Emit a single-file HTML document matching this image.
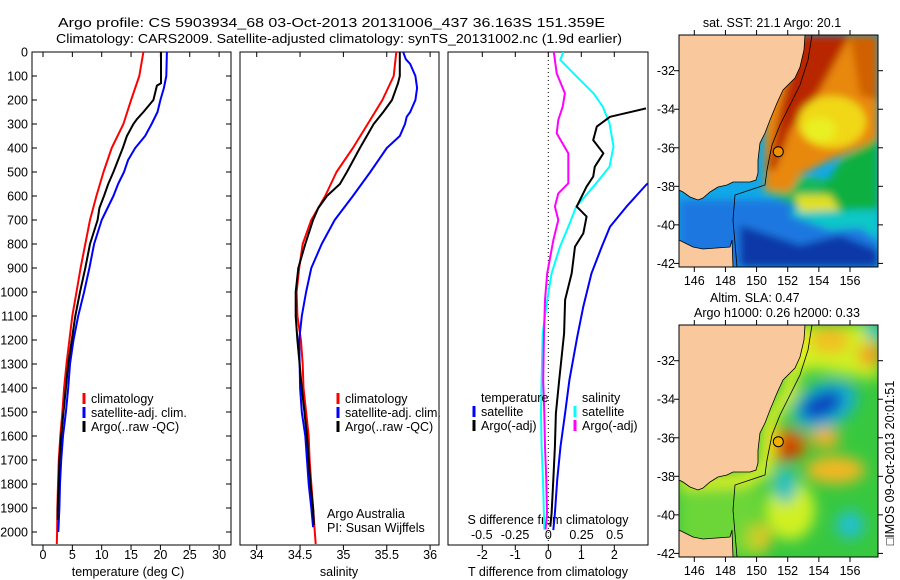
<!DOCTYPE html>
<html><head><meta charset="utf-8"><style>
html,body{margin:0;padding:0;background:#fff;}
svg{display:block;font-family:"Liberation Sans",sans-serif;}
text{font-size:12.5px;fill:#000;}
</style></head><body>
<svg id="fig" width="900" height="580" viewBox="0 0 900 580" xmlns="http://www.w3.org/2000/svg">
<defs>
<clipPath id="c1"><rect x="32" y="52" width="199" height="493"/></clipPath>
<clipPath id="c2"><rect x="240" y="52" width="199" height="493"/></clipPath>
<clipPath id="c3"><rect x="448" y="52" width="200" height="493"/></clipPath>
<clipPath id="cm1"><rect x="679" y="35" width="199" height="232"/></clipPath>
<clipPath id="cm2"><rect x="679" y="325" width="199" height="232"/></clipPath>
<filter id="blur3"><feGaussianBlur stdDeviation="4"/></filter>
<filter id="blur6"><feGaussianBlur stdDeviation="7"/></filter>
</defs>
<text x="58" y="27" textLength="547" lengthAdjust="spacingAndGlyphs" font-size="14.5">Argo profile: CS 5903934_68 03-Oct-2013 20131006_437 36.163S 151.359E</text>
<text x="56" y="43" textLength="566" lengthAdjust="spacingAndGlyphs" font-size="14.5">Climatology: CARS2009. Satellite-adjusted climatology: synTS_20131002.nc (1.9d earlier)</text>

<g id="p1"></g>
<g id="p2"></g>
<g id="p3"></g>

<!-- Top map: SST -->
<g>
<text x="772" y="27" text-anchor="middle" font-size="13.5">sat. SST: 21.1  Argo: 20.1</text>
<g clip-path="url(#cm1)">
<rect x="679" y="35" width="199" height="232" fill="#10a8e8"/>
<g filter="url(#blur3)">
<polygon points="679,200 878,200 878,267 679,267" fill="#1a78e0"/>
<polygon points="740,225 800,245 840,235 878,250 878,267 740,267" fill="#0838a8"/>
<polygon points="790,215 830,230 860,228 878,240 878,200 800,200" fill="#10c8c8"/>
<polygon points="760,190 800,208 840,212 878,205 878,172 830,180 790,175" fill="#18b858"/>
<polygon points="760,35 878,35 878,140 830,160 800,175 790,192 765,190 765,120" fill="#e88808"/>
<polygon points="800,35 850,35 820,90 790,130 775,170 768,170 780,110" fill="#b82800"/>
<polygon points="850,35 878,35 878,100 860,95" fill="#d06000"/>
<ellipse cx="832" cy="122" rx="34" ry="26" fill="#f0d818"/>
<ellipse cx="820" cy="130" rx="16" ry="12" fill="#e8f020"/>
<polygon points="842,158 878,138 878,210 830,210 820,195" fill="#10b040"/>
<polygon points="795,195 830,195 840,210 800,212" fill="#e0e020"/>
</g>
<polygon points="679,35 805,35 804,50 800,67 795,78 783,90 777,103 770,120 765,133 760,143 758,160 758,173 756,180 750,182 733,182 727,185 718,187 710,192 703,198 698,200 690,197 683,192 679,190" fill="#f9c99d" stroke="#000" stroke-width="0.8"/>
<polygon points="679,240 693,247 703,249 730,247 732,240 733,267 679,267" fill="#f9c99d" stroke="#000" stroke-width="0.8"/>
<polyline points="812,35 808,60 800,85 790,105 780,125 772,145 767,170 765,185 750,190 735,195 733,220 737,267" fill="none" stroke="#000" stroke-width="0.8"/>
<circle cx="778.3" cy="151.7" r="5" fill="#f09000" stroke="#000" stroke-width="1"/>
</g>
<rect x="679" y="35" width="199" height="232" fill="none" stroke="#000" stroke-width="1"/>
</g>

<!-- Bottom map: SLA -->
<g>
<text x="710" y="302" font-size="13.5">Altim. SLA: 0.47</text>
<text x="694" y="317" textLength="166" lengthAdjust="spacingAndGlyphs" font-size="13.5">Argo h1000: 0.26 h2000: 0.33</text>
<g clip-path="url(#cm2)">
<rect x="679" y="325" width="199" height="232" fill="#38c840"/>
<g filter="url(#blur6)">
<polygon points="790,325 878,325 878,380 850,375 820,370 800,370 790,350" fill="#d0f020"/>
<ellipse cx="830" cy="340" rx="20" ry="14" fill="#f0c020"/>
<ellipse cx="870" cy="355" rx="12" ry="12" fill="#f0a020"/>
<ellipse cx="875" cy="330" rx="10" ry="10" fill="#20c0c0"/>
<ellipse cx="825" cy="405" rx="34" ry="22" fill="#18b0d0" transform="rotate(-25 825 405)"/>
<ellipse cx="822" cy="405" rx="22" ry="12" fill="#0840c0" transform="rotate(-25 822 405)"/>
<ellipse cx="785" cy="445" rx="22" ry="16" fill="#e07010"/>
<ellipse cx="790" cy="448" rx="10" ry="8" fill="#c02000"/>
<ellipse cx="835" cy="470" rx="30" ry="14" fill="#f0b820"/>
<ellipse cx="825" cy="438" rx="15" ry="10" fill="#f0b020"/>
<ellipse cx="790" cy="510" rx="25" ry="30" fill="#d0f020"/>
<ellipse cx="785" cy="485" rx="12" ry="18" fill="#20c0c0"/>
<ellipse cx="850" cy="525" rx="14" ry="14" fill="#20c0d0"/>
<ellipse cx="757" cy="538" rx="14" ry="16" fill="#f0c020"/>
<polygon points="679,480 760,480 760,557 679,557" fill="#90e030" opacity="0.6"/>
<polyline points="800,325 790,390 770,420 765,470 740,480 679,482" fill="none" stroke="#e8f020" stroke-width="14"/>
</g>
<polygon points="679,325 805,325 804,340 800,357 795,368 783,380 777,393 770,410 765,423 760,433 758,450 758,463 756,470 750,472 733,472 727,475 718,477 710,482 703,488 698,490 690,487 683,482 679,480" fill="#f9c99d" stroke="#000" stroke-width="0.8"/>
<polygon points="679,530 693,537 703,539 730,537 732,530 733,557 679,557" fill="#f9c99d" stroke="#000" stroke-width="0.8"/>
<polyline points="812,325 808,350 800,375 790,395 780,415 772,435 767,460 765,475 750,480 735,485 733,510 737,557" fill="none" stroke="#000" stroke-width="0.8"/>
<circle cx="778.3" cy="441.7" r="5" fill="#f0b000" stroke="#000" stroke-width="1"/>
</g>
<rect x="679" y="325" width="199" height="232" fill="none" stroke="#000" stroke-width="1"/>
</g>
<text x="0" y="0" transform="translate(894,463) rotate(-90)" text-anchor="middle" font-size="13">□IMOS 09-Oct-2013 20:01:51</text>
<g id="maxes"></g>

<script>
// ---------- data ----------
const depthTicks = [0,100,200,300,400,500,600,700,800,900,1000,1100,1200,1300,1400,1500,1600,1700,1800,1900,2000];
const tempTicks = [0,5,10,15,20,25,30];
const salTicks = [34,34.5,35,35.5,36];
const salTickLabels = ["34","34.5","35","35.5","36"];
const tdiffTicks = [-2,-1,0,1,2];
const sdiffTicks = [-0.5,-0.25,0,0.25,0.5];
const sdiffTickLabels = ["-0.5","-0.25","0","0.25","0.5"];

const climTDepth = [0,100,200,300,400,500,600,700,800,900,1000,1100,1200,1300,1400,1500,1600,1700,1800,1900,2000,2050];
const climT = [17.1,16.4,15.0,13.7,11.7,10.3,9.1,8.0,7.2,6.4,5.7,5.0,4.5,4.0,3.6,3.3,2.95,2.7,2.55,2.45,2.4,2.35];
const satTDepth = [0,100,150,200,250,300,350,400,450,500,550,600,700,800,900,1000,1100,1200,1300,1400,1500,1600,1700,1800,1900,2000];
const satT = [21.1,21.0,20.6,20.0,19.5,18.5,17.4,15.7,14.5,13.8,12.8,12.0,10.0,8.7,7.9,7.0,6.0,5.2,4.6,4.3,3.9,3.4,3.1,2.9,2.8,2.6];
const argoTDepth = [0,130,140,200,250,280,300,350,400,500,550,600,650,700,800,900,1000,1100,1200,1300,1400,1500,1600,1700,1800,1900,1950];
const argoT = [20.1,20.1,19.4,18.8,17.1,16.0,15.4,14.3,13.6,12.0,11.1,10.4,9.6,9.3,8.0,7.2,6.3,5.5,4.9,4.3,3.9,3.5,3.1,2.8,2.7,2.5,2.5];

const climSDepth = [0,100,200,300,400,500,600,700,800,900,1000,1100,1200,1300,1400,1500,1600,1700,1800,1900,2000,2050];
const climS = [35.61,35.58,35.45,35.28,35.11,34.92,34.79,34.63,34.53,34.49,34.46,34.47,34.51,34.53,34.54,34.57,34.60,34.61,34.63,34.65,34.67,34.68];
const satSDepth = [0,30,50,100,150,200,250,270,300,350,400,500,600,700,800,900,1000,1100,1200,1400,1500,1600,1700,1800,1900,1980];
const satS = [35.69,35.72,35.77,35.83,35.85,35.83,35.77,35.73,35.71,35.65,35.50,35.31,35.11,34.90,34.75,34.63,34.57,34.52,34.49,34.50,34.52,34.56,34.58,34.60,34.63,34.65];
const argoSDepth = [0,100,130,200,250,300,400,500,550,600,650,700,800,900,1000,1100,1200,1400,1500,1600,1700,1800,1900,1970];
const argoS = [35.65,35.65,35.63,35.56,35.46,35.35,35.19,35.04,34.96,34.81,34.71,34.65,34.56,34.48,34.45,34.45,34.47,34.52,34.55,34.58,34.60,34.62,34.65,34.66];

const argoTdDepth = [235,270,311,367,422,478,519,561,644,686,756,811,922,1033,1172,1367,1505,1644,1783,1922,1978];
const argoTd = [2.96,1.87,1.47,1.36,1.67,1.41,1.36,1.16,0.86,1.16,1.06,0.81,0.71,0.51,0.48,0.33,0.23,0.20,0.15,0.10,0.06];
const satTdDepth = [480,554,644,728,811,922,1061,1186,1367,1505,1644,1783,1922,1992];
const satTd = [3.6,2.96,2.37,1.87,1.62,1.31,1.06,0.88,0.64,0.51,0.37,0.27,0.20,0.15];
const argoSdDepth = [0,6,89,172,228,283,339,422,478,547,589,644,700,783,922,1033,1172,1367,1505,1644,1783,1922,1990];
const argoSd = [0.04,0.043,0.063,0.125,0.108,0.075,0.063,0.15,0.15,0.15,0.075,0.05,0.075,0.038,-0.008,-0.025,-0.032,-0.038,-0.03,-0.025,-0.015,-0.01,-0.02];
const satSdDepth = [0,33,89,172,228,297,394,478,547,644,728,811,922,1033,1172,1367,1505,1644,1783,1990];
const satSd = [0.113,0.09,0.19,0.34,0.41,0.46,0.49,0.46,0.36,0.21,0.15,0.088,0.025,-0.008,-0.042,-0.05,-0.055,-0.05,-0.04,-0.03];

const mapLon = [146,148,150,152,154,156];
const mapLat = [-32,-34,-36,-38,-40,-42];

// ---------- scales ----------
const yD = d => 52 + d*0.24;
const xT = t => 43 + t*5.87;
const xS = s => 256.7 + (s-34)*86.7;
const xTd = t => 548.3 + t*33;
const xSd = s => 548.3 + s*133;
const NS = "http://www.w3.org/2000/svg";
function mk(tag, attrs, parent){
  const e = document.createElementNS(NS, tag);
  for (const k in attrs) e.setAttribute(k, attrs[k]);
  parent.appendChild(e);
  return e;
}
function txt(str, x, y, anchor, parent){
  const t = mk('text', {x:x, y:y, 'text-anchor':anchor}, parent);
  t.textContent = str;
  return t;
}
function line(depths, vals, xf, color, w, clip, parent, name){
  const pts = depths.map((d,i)=> xf(vals[i]).toFixed(1)+','+yD(d).toFixed(1)).join(' ');
  const p = mk('polyline', {points:pts, fill:'none', stroke:color, 'stroke-width':w, 'clip-path':'url(#'+clip+')', 'stroke-linejoin':'round'}, parent);
  
  
  return p;
}
function legend(x, y, color, label, parent, name){
  const g = mk('g', {}, parent);
  
  
  mk('rect', {x:x-1.5, y:y-10, width:3, height:11, fill:color}, g);
  txt(label, x+7, y, 'start', g);
}

// ---------- panel 1 ----------
const p1 = document.getElementById('p1');
mk('rect', {x:32, y:52, width:199, height:493, fill:'none', stroke:'#000', 'stroke-width':1}, p1);
depthTicks.forEach(d=>{
  const y = yD(d);
  mk('line', {x1:32, x2:37, y1:y, y2:y, stroke:'#000'}, p1);
  mk('line', {x1:226, x2:231, y1:y, y2:y, stroke:'#000'}, p1);
  const t = txt(String(d), 28, y+4.5, 'end', p1);
  
  
});
tempTicks.forEach(v=>{
  const x = xT(v);
  mk('line', {x1:x, x2:x, y1:52, y2:57, stroke:'#000'}, p1);
  mk('line', {x1:x, x2:x, y1:545, y2:550, stroke:'#000'}, p1);
  const t = txt(String(v), x, 559, 'middle', p1);
  
  
});
txt('temperature (deg C)', 128, 576, 'middle', p1);
line(climTDepth, climT, xT, '#ff0000', 2, 'c1', p1, 'climatology-temperature-line');
line(satTDepth, satT, xT, '#0000ff', 2, 'c1', p1, 'satellite-temperature-line');
line(argoTDepth, argoT, xT, '#000000', 2, 'c1', p1, 'argo-temperature-line');
legend(84, 403, '#ff0000', 'climatology', p1, 'legend-climatology');
legend(84, 417, '#0000ff', 'satellite-adj. clim.', p1, 'legend-satellite');
legend(84, 431, '#000000', 'Argo(..raw -QC)', p1, 'legend-argo');

// ---------- panel 2 ----------
const p2 = document.getElementById('p2');
mk('rect', {x:240, y:52, width:199, height:493, fill:'none', stroke:'#000', 'stroke-width':1}, p2);
salTicks.forEach((v,i)=>{
  const x = xS(v);
  mk('line', {x1:x, x2:x, y1:52, y2:57, stroke:'#000'}, p2);
  mk('line', {x1:x, x2:x, y1:545, y2:550, stroke:'#000'}, p2);
  const t = txt(salTickLabels[i], x, 559, 'middle', p2);
  
  
});
txt('salinity', 339, 576, 'middle', p2);
line(climSDepth, climS, xS, '#ff0000', 2, 'c2', p2, 'climatology-salinity-line');
line(satSDepth, satS, xS, '#0000ff', 2, 'c2', p2, 'satellite-salinity-line');
line(argoSDepth, argoS, xS, '#000000', 2, 'c2', p2, 'argo-salinity-line');
legend(338, 403, '#ff0000', 'climatology', p2, 'legend-climatology-2');
legend(338, 417, '#0000ff', 'satellite-adj. clim.', p2, 'legend-satellite-2');
legend(338, 431, '#000000', 'Argo(..raw -QC)', p2, 'legend-argo-2');
txt('Argo Australia', 327, 518, 'start', p2);
txt('PI: Susan Wijffels', 327, 532, 'start', p2);

// ---------- panel 3 ----------
const p3 = document.getElementById('p3');
mk('rect', {x:448, y:52, width:200, height:493, fill:'none', stroke:'#000', 'stroke-width':1}, p3);
mk('line', {x1:xTd(0), x2:xTd(0), y1:52, y2:545, stroke:'#000', 'stroke-dasharray':'1,3'}, p3);
tdiffTicks.forEach(v=>{
  const x = xTd(v);
  mk('line', {x1:x, x2:x, y1:52, y2:57, stroke:'#000'}, p3);
  mk('line', {x1:x, x2:x, y1:545, y2:550, stroke:'#000'}, p3);
  const t = txt(String(v), x, 559, 'middle', p3);
  
  
});
sdiffTicks.forEach((v,i)=>{
  const t = txt(sdiffTickLabels[i], xSd(v), 539, 'middle', p3);
  
  
});
txt('S difference from climatology', 548, 524, 'middle', p3);
txt('T difference from climatology', 548, 576, 'middle', p3);
line(satSdDepth, satSd, xSd, '#00ffff', 2, 'c3', p3, 'satellite-salinity-diff-line');
line(argoSdDepth, argoSd, xSd, '#ff00ff', 2, 'c3', p3, 'argo-salinity-diff-line');
line(satTdDepth, satTd, xTd, '#0000ff', 2, 'c3', p3, 'satellite-temperature-diff-line');
line(argoTdDepth, argoTd, xTd, '#000000', 2, 'c3', p3, 'argo-temperature-diff-line');
txt('temperature', 481, 402, 'start', p3);
txt('salinity', 582, 402, 'start', p3);
legend(474, 416, '#0000ff', 'satellite', p3, 'legend-t-satellite');
legend(474, 430, '#000000', 'Argo(-adj)', p3, 'legend-t-argo');
legend(575, 416, '#00ffff', 'satellite', p3, 'legend-s-satellite');
legend(575, 430, '#ff00ff', 'Argo(-adj)', p3, 'legend-s-argo');

// ---------- map axes ----------
const ma = document.getElementById('maxes');
const mX = lon => 694.3 + (lon-146)*15.57;
const mY = lat => 70.7 + (-32-lat)*19.27;
[0, 290].forEach(off=>{
  mapLon.forEach(l=>{
    const x = mX(l);
    mk('line', {x1:x, x2:x, y1:30+off, y2:35+off, stroke:'#000'}, ma);
    mk('line', {x1:x, x2:x, y1:267+off, y2:272+off, stroke:'#000'}, ma);
    const t = txt(String(l), x, 285+off, 'middle', ma);
    t.setAttribute('font-size', '13.5');
    
    
  });
  mapLat.forEach(l=>{
    const y = mY(l)+off;
    mk('line', {x1:674, x2:679, y1:y, y2:y, stroke:'#000'}, ma);
    mk('line', {x1:878, x2:883, y1:y, y2:y, stroke:'#000'}, ma);
    const t = txt(String(l), 675, y+4.5, 'end', ma);
    t.setAttribute('font-size', '13.5');
    
    
  });
});
</script>
</svg>
</body></html>
